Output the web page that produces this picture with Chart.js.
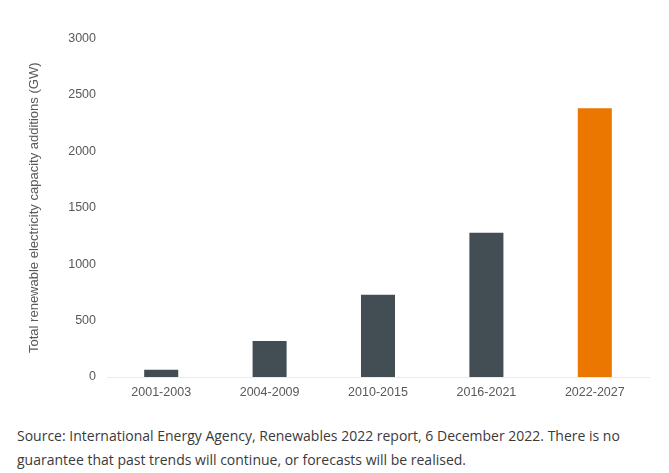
<!DOCTYPE html>
<html>
<head>
<meta charset="utf-8">
<script src="https://cdn.jsdelivr.net/npm/chart.js@4"></script>
<style>
  html, body { margin: 0; padding: 0; background: #ffffff; }
  #wrap { position: relative; width: 669px; height: 407px; }
  #src { position: absolute; left: 17px; top: 424px; width: 640px; margin: 0;
         font-family: "Open Sans", sans-serif; font-size: 14px; line-height: 24px; color: #3a3a3a; }
</style>
</head>
<body>
<div id="wrap"><canvas id="c" width="669" height="407"></canvas></div>
<p id="src">Source: International Energy Agency, Renewables 2022 report, 6 December 2022. There is no guarantee that past trends will continue, or forecasts will be realised.</p>
<script>
const categories = ["2001-2003", "2004-2009", "2010-2015", "2016-2021", "2022-2027"];
const values = [65, 320, 728, 1278, 2382];
const barColors = ["#434e54", "#434e54", "#434e54", "#434e54", "#eb7600"];
const yTitle = "Total renewable electricity capacity additions (GW)";

Chart.defaults.font.family = "'Liberation Sans', Arial, sans-serif";
Chart.defaults.color = "#595959";

new Chart(document.getElementById("c"), {
  type: "bar",
  data: {
    labels: categories,
    datasets: [{
      data: values,
      backgroundColor: barColors,
      borderWidth: 0,
      barPercentage: 0.314,
      categoryPercentage: 1.0
    }]
  },
  options: {
    responsive: false,
    animation: false,
    devicePixelRatio: 1,
    layout: { padding: { top: 38.5, right: 20, bottom: 0, left: 0 } },
    plugins: { legend: { display: false }, tooltip: { enabled: false } },
    scales: {
      x: {
        grid: { display: false, drawTicks: false },
        border: { display: true, color: "#ebebeb", width: 1 },
        ticks: { font: { size: 12.5 }, color: "#595959", padding: 8, maxRotation: 0 },
        afterFit: (s) => { s.height = 30; }
      },
      y: {
        min: 0, max: 3000,
        grid: { display: false, drawTicks: false },
        border: { display: false },
        ticks: { stepSize: 500, font: { size: 12.5 }, color: "#595959", padding: 11,
                 callback: (v) => String(v) },
        title: { display: true, text: yTitle, font: { size: 13 }, color: "#595959", padding: { top: 27, bottom: 0 } },
        afterFit: (s) => { s.width = 107; }
      }
    }
  }
});
</script>
</body>
</html>
